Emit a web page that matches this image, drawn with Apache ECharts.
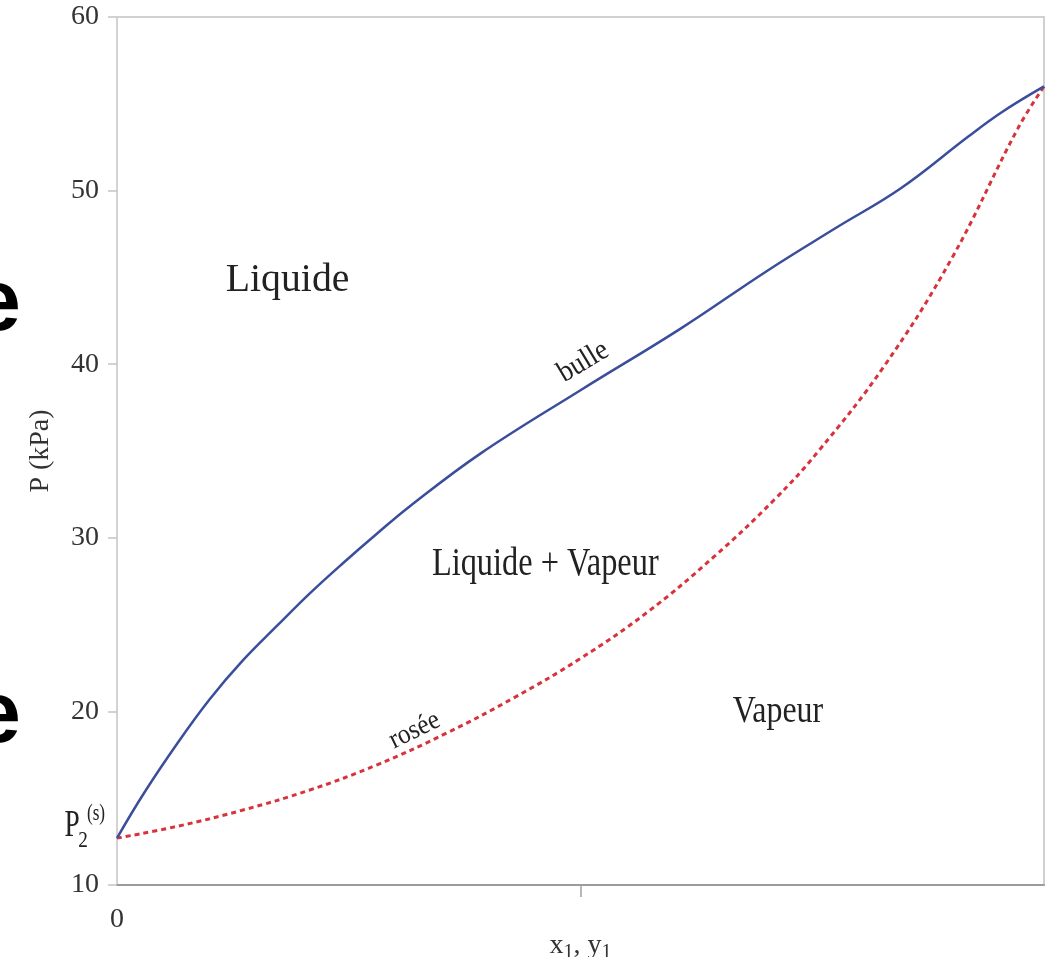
<!DOCTYPE html>
<html><head><meta charset="utf-8">
<script src="https://cdn.jsdelivr.net/npm/echarts@6/dist/echarts.min.js"></script>
<style>html,body{margin:0;padding:0;background:#fff}#c{width:1047px;height:957px}</style>
</head><body><div id="c"></div>
<script>
// Bubble curve (bulle): x1 vs P (kPa)
const bulleX = [0, 0.028, 0.065, 0.100, 0.136, 0.173, 0.208, 0.244, 0.280, 0.316, 0.392, 0.500, 0.608, 0.702, 0.774, 0.846, 0.918, 0.954, 1.0];
const bulleP = [12.7, 15.2, 18.15, 20.7, 22.95, 24.95, 26.8, 28.55, 30.22, 31.82, 34.85, 38.5, 42.05, 45.4, 47.8, 50.15, 53.1, 54.5, 56.0];
// Dew curve (rosée): y1 vs P (kPa)
const roseeX = [0, 0.065, 0.136, 0.208, 0.280, 0.356, 0.428, 0.500, 0.572, 0.644, 0.709, 0.756, 0.828, 0.900, 0.972, 1.0];
const roseeP = [12.7, 13.38, 14.32, 15.47, 16.91, 18.76, 20.78, 23.05, 25.71, 28.91, 32.19, 34.95, 39.92, 46.05, 53.6, 56.0];
// Axis ticks
const yTickValues = [10, 20, 30, 40, 50, 60];
const xTickValues = [0.5];
const xLabelValues = [0];
// Texts
const regionNames = ['Liquide', 'Liquide + Vapeur', 'Vapeur'];
const curveNames = ['bulle', 'rosée'];
const p2Value = 12.7;

const SERIF = '"Liberation Serif", "Times New Roman", serif';
const chart = echarts.init(document.getElementById('c'), null, {renderer: 'canvas'});

chart.setOption({
  animation: false,
  backgroundColor: '#fff',
  grid: {left: 117, right: 3, top: 17, bottom: 72, containLabel: false, outerBoundsMode: 'none',
    show: true, borderColor: '#d0d0d0', borderWidth: 2, backgroundColor: 'transparent'},
  xAxis: {
    type: 'value', min: 0, max: 1, interval: 0.5,
    axisLine: {show: true, lineStyle: {color: '#9c9c9c', width: 2}},
    axisTick: {show: true, customValues: xTickValues, length: 12, lineStyle: {color: '#a0a0a0', width: 1.5}},
    axisLabel: {customValues: xLabelValues, formatter: v => String(v), fontFamily: SERIF, fontSize: 28, color: '#333', margin: 21},
    splitLine: {show: false},
    name: 'x{s|1}, y{s|1}', nameLocation: 'middle', nameGap: 44, nameMoveOverlap: false,
    nameTextStyle: {fontFamily: SERIF, fontSize: 28, color: '#333',
      rich: {s: {fontFamily: SERIF, fontSize: 20, color: '#333', padding: [14, 0, 0, 0]}}}
  },
  yAxis: {
    type: 'value', min: yTickValues[0], max: yTickValues[yTickValues.length - 1], interval: 10,
    axisLine: {show: true, lineStyle: {color: '#d4d4d4', width: 1.5}},
    axisTick: {show: true, length: 9, lineStyle: {color: '#c4c4c4', width: 1.5}},
    axisLabel: {fontFamily: SERIF, fontSize: 28, color: '#333', margin: 18},
    splitLine: {show: false},
    name: 'P (kPa)', nameLocation: 'middle', nameGap: 62, nameRotate: 90, nameMoveOverlap: false,
    nameTextStyle: {fontFamily: SERIF, fontSize: 28, color: '#333'}
  },
  series: [
    {name: curveNames[0], type: 'line', data: bulleX.map((x, i) => [x, bulleP[i]]), smooth: 0.4,
     showSymbol: false, lineStyle: {color: '#3b4e9b', width: 2.5}, z: 3},
    {name: curveNames[1], type: 'line', data: roseeX.map((x, i) => [x, roseeP[i]]), smooth: 0.4,
     showSymbol: false, lineStyle: {color: '#d8333d', width: 3, type: [5, 4]}, z: 2}
  ]
});

function txt(text, x, y, o) {
  o = o || {};
  return {
    type: 'text', x: x, y: y, rotation: (o.rot || 0) * Math.PI / 180,
    scaleX: o.sx || 1, scaleY: o.sy || 1, z: 10, silent: true,
    style: {text: text, fontFamily: o.family || SERIF, fontSize: o.size || 38, fontWeight: o.weight || 'normal',
      fill: o.color || '#222', align: o.align || 'center', verticalAlign: 'middle',
      textAlign: o.align || 'center', textVerticalAlign: 'middle'}
  };
}
const px = (x, y) => chart.convertToPixel({gridIndex: 0}, [x, y]);

// anchor points of the annotations (data coordinates)
const aLiq = px(0.184, 44.8), aMix = px(0.462, 28.43), aVap = px(0.713, 19.97);
const aBulle = px(0.503, 40.13), aRosee = px(0.321, 18.9);
const aP2 = px(0, p2Value);

chart.setOption({graphic: [
  txt(regionNames[0], aLiq[0], aLiq[1], {size: 39, sx: 1.02}),
  txt(regionNames[1], aMix[0], aMix[1], {size: 39, sx: 0.83}),
  txt(regionNames[2], aVap[0], aVap[1], {size: 38, sx: 0.84}),
  txt(curveNames[0], aBulle[0], aBulle[1], {size: 30, sx: 0.9, rot: 31}),
  txt(curveNames[1], aRosee[0], aRosee[1], {size: 28, sx: 0.9, rot: 26}),
  txt('P', aP2[0] - 45, aP2[1] - 12, {size: 38, sx: 0.72}),
  txt('(s)', aP2[0] - 21, aP2[1] - 24, {size: 23, sx: 0.75}),
  txt('2', aP2[0] - 34, aP2[1] + 3, {size: 24, sx: 0.8}),
  // cropped glyphs of a neighbouring figure at the left edge
  txt('e', 21, 306, {size: 88, weight: 'bold', family: '"Liberation Sans", Arial, sans-serif', align: 'right', color: '#000'}),
  txt('e', 21, 718, {size: 88, weight: 'bold', family: '"Liberation Sans", Arial, sans-serif', align: 'right', color: '#000'})
]});
</script>
</body></html>
